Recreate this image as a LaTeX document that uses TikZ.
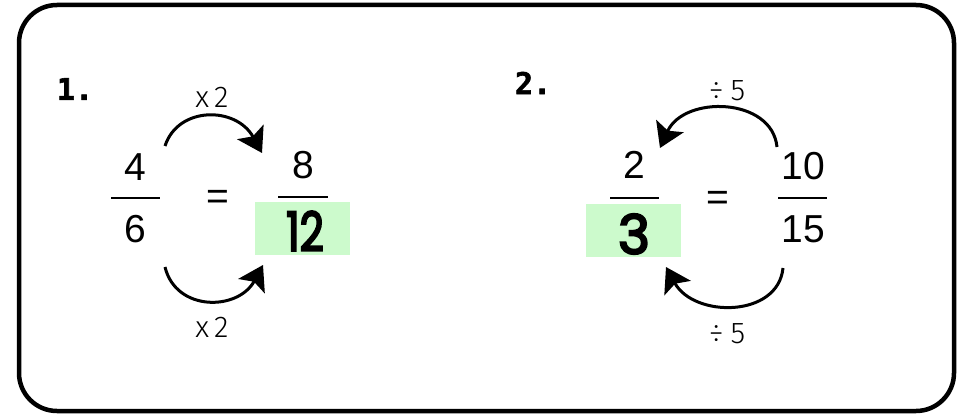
\documentclass[tikz,border=0pt]{standalone}
\usepackage{fontspec}
\setmainfont{Liberation Sans}
\newfontfamily\handfont[FakeBold=4]{Poppins}
\newfontfamily\thinfont{Fira Sans Light}
\newfontfamily\numfont[FakeBold=2]{DejaVu Sans Mono Bold}
\usetikzlibrary{arrows.meta}
\definecolor{hl}{RGB}{204,250,204}
\begin{document}
\begin{tikzpicture}[x=1pt,y=-1pt,
  digit/.style={inner sep=0pt, font=\fontsize{39}{41}\selectfont},
  hand/.style={inner sep=0pt, font=\handfont\fontsize{54}{56}\selectfont},
  oplabel/.style={inner sep=0pt, font=\thinfont\fontsize{30}{32}\selectfont},
  qnum/.style={inner sep=0pt, font=\numfont\fontsize{30}{32}\selectfont},
  fbar/.style={line width=1.3pt},
  curved/.style={line width=3pt, -{Stealth[length=24pt,width=30pt,inset=5pt]}},
  hlbox/.style={fill=hl, draw=none, inner sep=0pt, minimum width=95pt, minimum height=53pt}
]
\useasboundingbox (0,0) rectangle (961,417);
\draw[line width=4.5pt, rounded corners=38pt] (19,5) rectangle (954,411);

% problem 1
\node[qnum] (q1) at (75,89) {1.};
\node[digit] (n4) at (135,167) {4};
\draw[fbar] (111,198) -- (160,198);
\node[digit] (n6) at (135,229) {6};
\node[digit] (eq1) at (218,200) {=};
\node[digit] (n8) at (303,165) {8};
\draw[fbar] (278,197) -- (328,197);
\node[hlbox] (g1) at (302.5,228.5) {};
\node[hand, xscale=0.78] (n12) at (305,231) {12};
\node[oplabel] (l1a) at (212,97) {x\hspace{5pt}2};
\node[oplabel] (l1b) at (212,327) {x\hspace{5pt}2};
\coordinate (a1s) at (165,146);
\coordinate (a1t) at (262,153);
\coordinate (b1s) at (165,267);
\coordinate (b1t) at (263,265);
\draw[curved] (a1s) .. controls (178,106) and (236,106) .. (a1t);
\draw[curved] (b1s) .. controls (176,312) and (238,311) .. (b1t);

% problem 2
\node[qnum] (q2) at (533,83) {2.};
\node[digit] (n2) at (634,165) {2};
\draw[fbar] (610,198) -- (659,198);
\node[hlbox] (g2) at (633.5,230.5) {};
\node[hand] (n3) at (634,234) {3};
\node[digit] (eq2) at (718,201) {=};
\node[digit] (n10) at (803,166) {10};
\draw[fbar] (778,198) -- (827,198);
\node[digit] (n15) at (803,229) {15};
\node[oplabel] (l2a) at (727,91) {÷\hspace{7pt}5};
\node[oplabel] (l2b) at (727,334) {÷\hspace{7pt}5};
\coordinate (a2s) at (777,147);
\coordinate (a2t) at (660,148);
\coordinate (b2s) at (783,268);
\coordinate (b2t) at (666,267);
\draw[curved] (a2s) .. controls (772,97) and (684,95) .. (a2t);
\draw[curved] (b2s) .. controls (778,318) and (694,318) .. (b2t);
\end{tikzpicture}
\end{document}
